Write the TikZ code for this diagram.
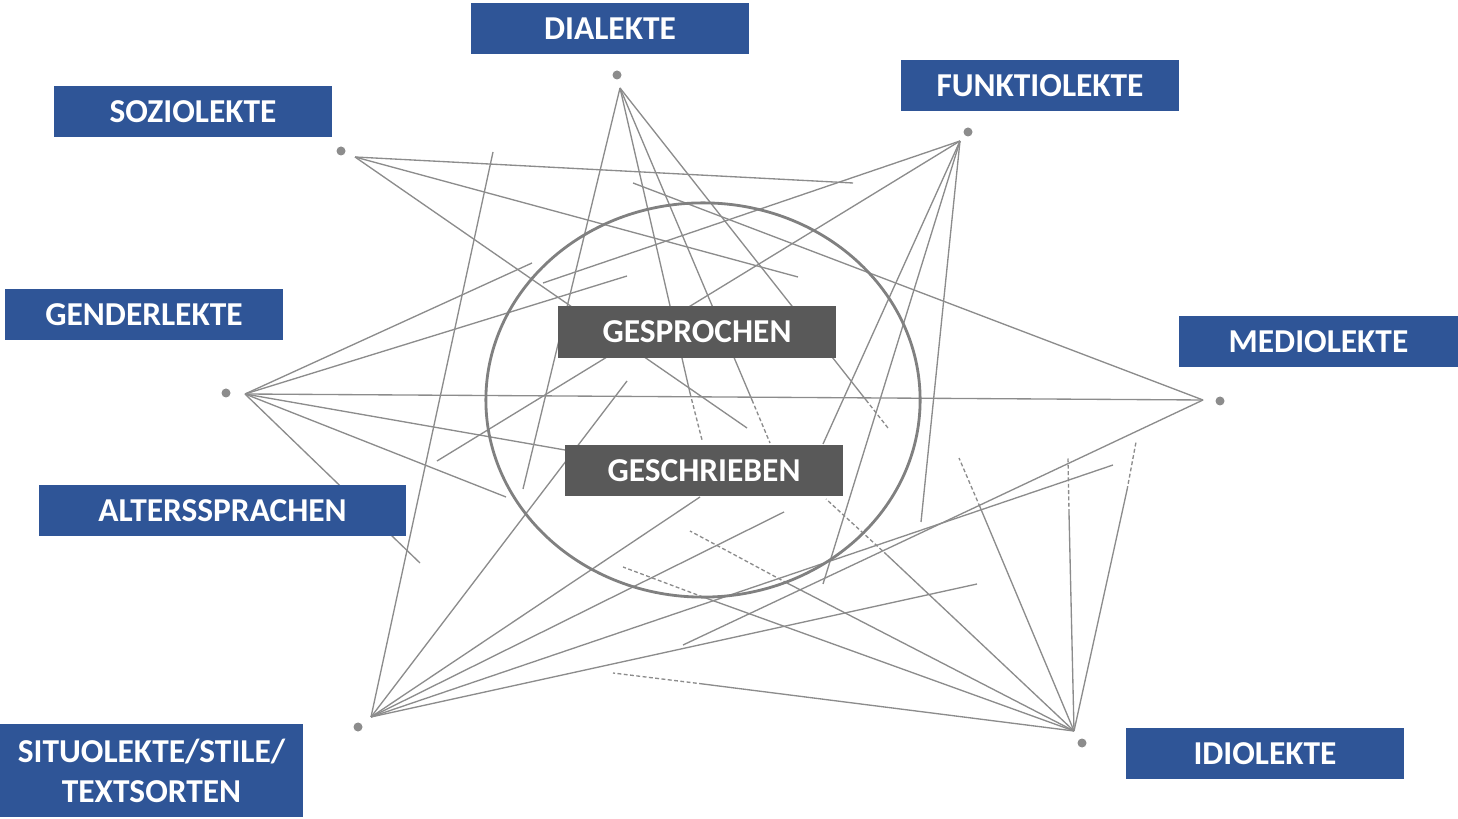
\documentclass[tikz,border=0pt]{standalone}
\usepackage{fontspec}
\newfontfamily\lblfont{Carlito}
\definecolor{bluebox}{HTML}{2F5597}
\definecolor{graybox}{HTML}{595959}
\definecolor{lnc}{HTML}{8C8C8C}
\definecolor{ringc}{HTML}{808080}
\begin{document}
\begin{tikzpicture}[x=0.01cm,y=-0.01cm,
  lab/.style={fill=bluebox,text=white,font=\lblfont\bfseries\fontsize{9.5pt}{11.4pt}\selectfont,
    minimum width=2.78cm,minimum height=0.51cm,inner sep=0pt,align=center},
  cat/.style={lab,fill=graybox},
  conn/.style={draw=lnc,line width=0.38pt},
  dsh/.style={conn,dash pattern=on 1.1pt off 0.7pt},
  dot/.style={circle,fill=lnc,inner sep=0pt,minimum size=0.09cm}]
\useasboundingbox (0,0) rectangle (1458,819);

% dots
\node[dot] (dD) at (617,75) {};
\node[dot] (dS) at (341,151) {};
\node[dot] (dF) at (968,132) {};
\node[dot] (dG) at (226,393) {};
\node[dot] (dM) at (1220,401) {};
\node[dot] (dT) at (358,727) {};
\node[dot] (dI) at (1082,743) {};

% hubs
\coordinate (hD) at (620,88);
\coordinate (hS) at (355,157);
\coordinate (hF) at (960,141);
\coordinate (hG) at (245,394);
\coordinate (hM) at (1203,400);
\coordinate (hT) at (371,717);
\coordinate (hI) at (1074,731);

% free ends
\coordinate (s1) at (853,183);
\coordinate (s2) at (798,277);
\coordinate (s3) at (747,428);
\coordinate (d1) at (523,489);
\coordinate (d2) at (702,440); \coordinate (d2m) at (690,393);
\coordinate (d3) at (770,443); \coordinate (d3m) at (752,400);
\coordinate (d4) at (888,428); \coordinate (d4m) at (866,400);
\coordinate (f1) at (543,283);
\coordinate (f2) at (437,461);
\coordinate (f3) at (823,444);
\coordinate (f4) at (823,584);
\coordinate (f5) at (921,522);
\coordinate (g1) at (532,263);
\coordinate (g2) at (627,276);
\coordinate (g4) at (565,450);
\coordinate (g5) at (506,497);
\coordinate (g6) at (420,563);
\coordinate (m1) at (633,183);
\coordinate (m2) at (683,645);
\coordinate (t1) at (493,152);
\coordinate (t2) at (627,381);
\coordinate (t3) at (700,497);
\coordinate (t4) at (784,512);
\coordinate (t5) at (1113,465);
\coordinate (t6) at (977,584);
\coordinate (i1) at (959,458);  \coordinate (i1m) at (980,507);
\coordinate (i2) at (1068,458); \coordinate (i2m) at (1069,513);
\coordinate (i3) at (1136,442); \coordinate (i3m) at (1127,490);
\coordinate (i4) at (826,499);  \coordinate (i4m) at (887,555);
\coordinate (i5) at (690,531);  \coordinate (i5m) at (787,583);
\coordinate (i6) at (623,567);  \coordinate (i6m) at (703,597);
\coordinate (i7) at (613,673);  \coordinate (i7m) at (703,684);

% connectors
\draw[conn] (hS) -- (s1);
\draw[conn] (hS) -- (s2);
\draw[conn] (hS) -- (s3);
\draw[conn] (hD) -- (d1);
\draw[conn] (hD) -- (d2m); \draw[dsh] (d2m) -- (d2);
\draw[conn] (hD) -- (d3m); \draw[dsh] (d3m) -- (d3);
\draw[conn] (hD) -- (d4m); \draw[dsh] (d4m) -- (d4);
\draw[conn] (hF) -- (f1);
\draw[conn] (hF) -- (f2);
\draw[conn] (hF) -- (f3);
\draw[conn] (hF) -- (f4);
\draw[conn] (hF) -- (f5);
\draw[conn] (hG) -- (g1);
\draw[conn] (hG) -- (g2);
\draw[conn] (hG) -- (hM);
\draw[conn] (hG) -- (g4);
\draw[conn] (hG) -- (g5);
\draw[conn] (hG) -- (g6);
\draw[conn] (hM) -- (m1);
\draw[conn] (hM) -- (m2);
\draw[conn] (hT) -- (t1);
\draw[conn] (hT) -- (t2);
\draw[conn] (hT) -- (t3);
\draw[conn] (hT) -- (t4);
\draw[conn] (hT) -- (t5);
\draw[conn] (hT) -- (t6);
\draw[conn] (hI) -- (i1m); \draw[dsh] (i1m) -- (i1);
\draw[conn] (hI) -- (i2m); \draw[dsh] (i2m) -- (i2);
\draw[conn] (hI) -- (i3m); \draw[dsh] (i3m) -- (i3);
\draw[conn] (hI) -- (i4m); \draw[dsh] (i4m) -- (i4);
\draw[conn] (hI) -- (i5m); \draw[dsh] (i5m) -- (i5);
\draw[conn] (hI) -- (i6m); \draw[dsh] (i6m) -- (i6);
\draw[conn] (hI) -- (i7m); \draw[dsh] (i7m) -- (i7);

% ring
\draw[draw=ringc,line width=0.8pt] (703,400) ellipse [x radius=2.17cm,y radius=1.97cm];

% labels
\node[lab] (dia) at (610,28.5) {DIALEKTE};
\node[lab] (soz) at (193,111.5) {SOZIOLEKTE};
\node[lab] (fun) at (1040,85.5) {FUNKTIOLEKTE};
\node[lab] (gen) at (144,314.5) {GENDERLEKTE};
\node[lab] (med) at (1318.5,341.5) {MEDIOLEKTE};
\node[lab,minimum width=3.67cm] (alt) at (222.5,510.5) {ALTERSSPRACHEN};
\node[lab,minimum width=3.03cm,minimum height=0.93cm] (sit) at (151.5,770.5) {SITUOLEKTE/STILE/\\TEXTSORTEN};
\node[lab] (idi) at (1265,753.5) {IDIOLEKTE};
\node[cat] (spr) at (697,332) {GESPROCHEN};
\node[cat] (sch) at (704,470.5) {GESCHRIEBEN};
\end{tikzpicture}
\end{document}
